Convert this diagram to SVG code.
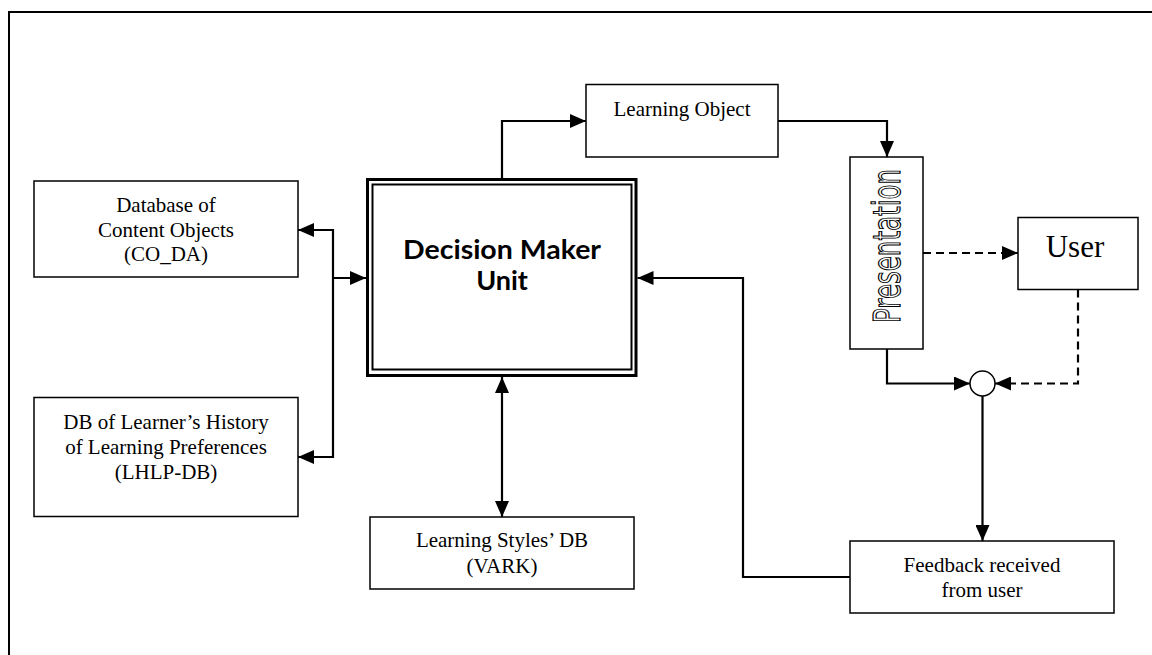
<svg xmlns="http://www.w3.org/2000/svg" width="1152" height="655" viewBox="0 0 1152 655">
<style>
.box{fill:#fff;stroke:#000;stroke-width:1.5}
.t{font-family:"Liberation Serif","Times New Roman",serif;font-size:21px;fill:#000;text-anchor:middle}
.c{fill:none;stroke:#000;stroke-width:2.2;stroke-linejoin:miter}
.d{stroke-dasharray:8,5}
.dm{font-family:Lato,"DejaVu Sans",sans-serif;font-weight:bold;font-size:27px;text-anchor:middle;fill:#000}
</style>
<defs>
<marker id="ah" markerUnits="userSpaceOnUse" markerWidth="16" markerHeight="14" refX="16" refY="7" orient="auto-start-reverse" viewBox="0 0 16 14">
<path d="M0,0 L16,7 L0,14 z" fill="#000"/>
</marker>
</defs>
<rect width="1152" height="655" fill="#fff"/>
<path d="M9,655 V12 H1152" fill="none" stroke="#000" stroke-width="2"/>

<g id="coda">
<rect class="box" x="34" y="181" width="264" height="96"/>
<text class="t" x="166" y="212">Database of</text>
<text class="t" x="166" y="236.5">Content Objects</text>
<text class="t" x="166" y="261">(CO_DA)</text>
</g>

<g id="lhlp">
<rect class="box" x="34" y="397.5" width="264" height="119"/>
<text class="t" x="166" y="428.5">DB of Learner’s History</text>
<text class="t" x="166" y="454">of Learning Preferences</text>
<text class="t" x="166" y="479">(LHLP-DB)</text>
</g>

<g id="dmu">
<rect x="367.5" y="179.5" width="268.5" height="196" fill="#fff" stroke="#000" stroke-width="3"/>
<rect x="372.5" y="184.5" width="259" height="185" fill="none" stroke="#000" stroke-width="2"/>
<text class="dm" x="502" y="259" textLength="198" lengthAdjust="spacingAndGlyphs">Decision Maker</text>
<text class="dm" x="502" y="290">Unit</text>
</g>

<g id="lsdb">
<rect class="box" x="370" y="517" width="264" height="72"/>
<text class="t" x="502" y="547">Learning Styles’ DB</text>
<text class="t" x="502" y="573">(VARK)</text>
</g>

<g id="lo">
<rect class="box" x="586" y="84.5" width="192" height="72.5"/>
<text class="t" x="682" y="116">Learning Object</text>
</g>

<g id="presentation">
<rect class="box" x="850" y="157" width="73" height="192"/>
<text transform="translate(900,246) rotate(-90)" x="0" y="0" font-family="'DejaVu Sans',sans-serif" font-size="37" text-anchor="middle" fill="#fff" stroke="#000" stroke-width="1.2" textLength="154" lengthAdjust="spacingAndGlyphs">Presentation</text>
</g>

<g id="user">
<rect class="box" x="1018" y="217.5" width="120" height="72"/>
<text x="1075" y="257" font-family="'Liberation Serif','Times New Roman',serif" font-size="31" text-anchor="middle">User</text>
</g>

<g id="junction">
<circle cx="982.5" cy="383.5" r="12.5" fill="#fff" stroke="#000" stroke-width="1.5"/>
</g>

<g id="feedback">
<rect class="box" x="850" y="541" width="264" height="72"/>
<text class="t" x="982" y="572">Feedback received</text>
<text class="t" x="982" y="597">from user</text>
</g>

<g id="connectors">
<path class="c" d="M333,278 H366" marker-end="url(#ah)"/>
<path class="c" d="M333,278 V230 H298" marker-end="url(#ah)"/>
<path class="c" d="M333,278 V457 H298" marker-end="url(#ah)"/>
<path class="c" d="M502,178 V121 H586" marker-end="url(#ah)"/>
<path class="c" d="M778,121 H887 V157" marker-end="url(#ah)"/>
<path class="c d" d="M923,253 H1018" marker-end="url(#ah)"/>
<path class="c d" d="M1078,289.5 V383.5 H995" marker-end="url(#ah)"/>
<path class="c" d="M887,349 V383.5 H970" marker-end="url(#ah)"/>
<path class="c" d="M982.5,396 V541" marker-end="url(#ah)"/>
<path class="c" d="M850,577 H743 V278 H637.5" marker-end="url(#ah)"/>
<path class="c" d="M502,377 V517" marker-start="url(#ah)" marker-end="url(#ah)"/>
</g>
</svg>
